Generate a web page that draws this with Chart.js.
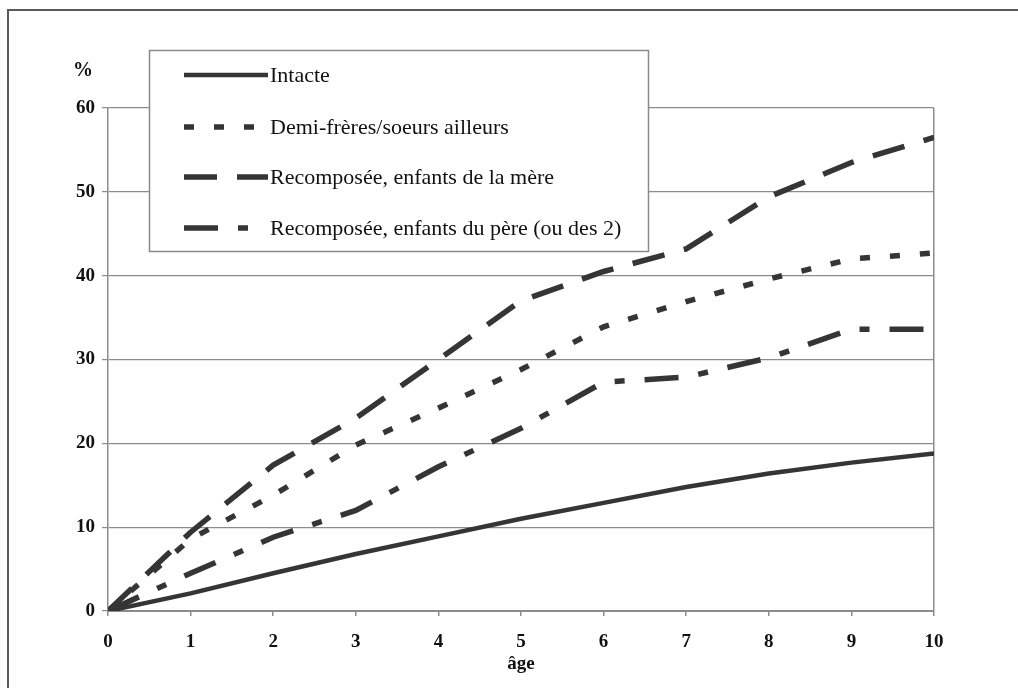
<!DOCTYPE html>
<html>
<head>
    <meta charset="UTF-8">
    <title>Familles - courbes par âge</title>
    <style>
        body {
            margin: 0;
            background-color: white;
            overflow: hidden;
        }
        #frame {
            position: absolute;
            left: 7px;
            top: 9px;
            width: 1100px;
            height: 800px;
            border: 2px solid #5a5a5a;
        }
        #wrap {
            position: absolute;
            left: 0;
            top: 0;
            width: 1018px;
            height: 688px;
        }
    </style>
    <script src="https://cdn.jsdelivr.net/npm/chart.js"></script>
</head>
<body>
<div id="frame"></div>
<div id="wrap">
    <canvas id="lineChart" width="1018" height="688"></canvas>
</div>
<script>
    // values (percent, by age)
    const ages = [0, 1, 2, 3, 4, 5, 6, 7, 8, 9, 10];
    const intacte = [0, 2.1, 4.5, 6.8, 8.9, 11.0, 12.9, 14.8, 16.4, 17.7, 18.8];
    const demiFreres = [0, 8.6, 13.8, 19.8, 24.2, 28.8, 33.9, 36.9, 39.6, 42.0, 42.7];
    const recompMere = [0, 9.4, 17.4, 23.0, 30.0, 37.0, 40.5, 43.2, 49.4, 53.5, 56.5];
    const recompPere = [0, 4.5, 8.8, 12.0, 17.2, 21.8, 27.3, 27.9, 30.2, 33.6, 33.6];

    const seriesNames = [
        'Intacte',
        'Demi-frères/soeurs ailleurs',
        'Recomposée, enfants de la mère',
        'Recomposée, enfants du père (ou des 2)'
    ];

    const lineColor = '#353535';
    const gridColor = '#8c8c8c';
    const serif = "'Liberation Serif', 'DejaVu Serif', serif";

    function toPoints(values) {
        return ages.map((a, i) => ({ x: a, y: values[i] }));
    }

    function makeSet(label, values, dash, width) {
        return {
            label: label,
            data: toPoints(values),
            borderColor: lineColor,
            borderWidth: width,
            borderDash: dash,
            borderCapStyle: 'butt',
            pointRadius: 0,
            tension: 0,
            fill: false
        };
    }

    // legend drawn inside the plot, like the original
    const boxLegend = {
        id: 'boxLegend',
        afterDraw(chart) {
            const ctx = chart.ctx;
            ctx.save();
            ctx.fillStyle = 'white';
            ctx.fillRect(149, 50, 499, 201);
            ctx.strokeStyle = '#8a8a8a';
            ctx.lineWidth = 1.5;
            ctx.strokeRect(149.5, 50.5, 499, 201);

            const rowsY = [75, 127, 177, 228];
            chart.data.datasets.forEach((ds, i) => {
                ctx.strokeStyle = ds.borderColor;
                ctx.lineWidth = ds.borderWidth;
                ctx.lineCap = 'butt';
                ctx.setLineDash(ds.borderDash);
                ctx.beginPath();
                ctx.moveTo(184, rowsY[i]);
                ctx.lineTo(268, rowsY[i]);
                ctx.stroke();
                ctx.setLineDash([]);
                ctx.fillStyle = '#111';
                ctx.font = '22px ' + serif;
                ctx.textBaseline = 'middle';
                ctx.textAlign = 'left';
                ctx.fillText(ds.label, 270, rowsY[i] + 1);
            });

            ctx.font = 'bold 20px ' + serif;
            ctx.textAlign = 'center';
            ctx.fillStyle = '#111';
            ctx.fillText('%', 83, 71);
            ctx.restore();
        }
    };

    const config = {
        type: 'line',
        data: {
            datasets: [
                makeSet(seriesNames[0], intacte, [], 4.5),
                makeSet(seriesNames[1], demiFreres, [10, 20], 5.5),
                makeSet(seriesNames[2], recompMere, [33, 20], 5.5),
                makeSet(seriesNames[3], recompPere, [34, 20, 10, 20], 5.5)
            ]
        },
        options: {
            responsive: false,
            animation: false,
            devicePixelRatio: 1,
            layout: {
                padding: { top: 108, right: 84, left: 0, bottom: 0 }
            },
            plugins: {
                legend: { display: false },
                tooltip: { enabled: false }
            },
            scales: {
                x: {
                    type: 'linear',
                    min: 0,
                    max: 10,
                    afterFit(scale) { scale.height = 77; },
                    ticks: {
                        stepSize: 1,
                        color: '#111',
                        padding: 15,
                        font: { family: serif, size: 19, weight: 'bold' }
                    },
                    grid: {
                        color: c => (c.tick && c.tick.value === 10) ? gridColor : 'rgba(0,0,0,0)',
                        tickColor: gridColor,
                        tickLength: 5,
                        lineWidth: 1.5
                    },
                    border: { color: gridColor, width: 2 },
                    title: {
                        display: true,
                        text: 'âge',
                        color: '#111',
                        padding: { top: 0, bottom: 13 },
                        font: { family: serif, size: 19, weight: 'bold' }
                    }
                },
                y: {
                    min: 0,
                    max: 60,
                    afterFit(scale) { scale.width = 108; },
                    ticks: {
                        stepSize: 10,
                        color: '#111',
                        padding: 7,
                        font: { family: serif, size: 19, weight: 'bold' }
                    },
                    grid: {
                        color: gridColor,
                        tickColor: gridColor,
                        tickLength: 6,
                        lineWidth: 1.2
                    },
                    border: { color: gridColor, width: 1.5 }
                }
            }
        },
        plugins: [boxLegend]
    };

    new Chart(document.getElementById('lineChart'), config);
</script>
</body>
</html>
